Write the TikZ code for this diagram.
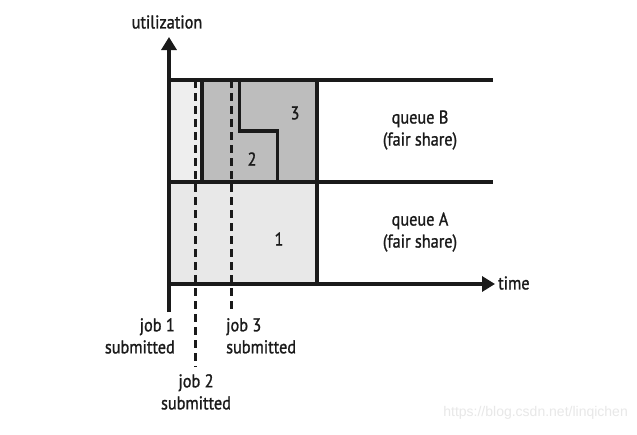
\documentclass[tikz,border=0pt]{standalone}
\usepackage{fontspec}
\setmainfont{PT Sans}[FakeStretch=0.88,FakeBold=1.2]
\newfontfamily\wmfont{Liberation Sans}
\usetikzlibrary{arrows.meta}
\definecolor{lightfill}{HTML}{E8E8E8}
\definecolor{lighterfill}{HTML}{EEEEEE}
\definecolor{darkfill}{HTML}{BDBDBD}
\definecolor{ink}{HTML}{1A1A1A}
\tikzset{
  thick line/.style={line width=3.2pt, ink},
  dash line/.style={line width=3pt, ink, dash pattern=on 8pt off 5pt},
  lbl/.style={font=\fontsize{18.5}{22}\selectfont, text=ink, inner sep=0pt},
  arrowtip/.style={-{Triangle[length=13pt,width=15pt]}},
}
\begin{document}
\begin{tikzpicture}[x=1pt,y=-1pt]
\useasboundingbox (0,0) rectangle (637,434);
\fill[white] (0,0) rectangle (637,434);
% coordinates
\coordinate (O) at (169,284);
\coordinate (Ybot) at (169,312);
\coordinate (Ytop) at (169,37);
\coordinate (Xend) at (495,284);
\coordinate (TL) at (169,80);
\coordinate (TR) at (493,80);
\coordinate (ML) at (169,182);
\coordinate (MR) at (493,182);
% fills
\fill[lightfill] (169,182) rectangle (317,284);
\fill[lighterfill] (169,80) rectangle (202,182);
\fill[darkfill] (202,80) rectangle (317,182);
% step line
\coordinate (s1) at (239.5,80);
\coordinate (s2) at (239.5,131);
\coordinate (s3) at (277.5,131);
\coordinate (s4) at (277.5,182);
\draw[thick line] (s1) -- (s2) -- (s3) -- (s4);
% vertical solid lines
\coordinate (v2t) at (202,80);
\coordinate (v2b) at (202,182);
\draw[thick line] (v2t) -- (v2b);
\coordinate (v3t) at (317,80);
\coordinate (v3b) at (317,284);
\draw[thick line] (v3t) -- (v3b);
% dashed submission lines
\coordinate (d2t) at (195,80);
\coordinate (d2b) at (195,367);
\coordinate (d3t) at (231,80);
\coordinate (d3b) at (231,311);
\draw[dash line] (d2t) -- (d2b);
\draw[dash line] (d3t) -- (d3b);
% horizontal lines
\draw[thick line] (TL) -- (TR);
\draw[thick line] (ML) -- (MR);
% axes
\draw[thick line, arrowtip] (O) -- (Xend);
\draw[thick line, arrowtip] (Ybot) -- (Ytop);
% labels
\node[lbl] (util) at (167,22) {utilization};
\node[lbl, anchor=west] (time) at (498,283) {time};
\node[lbl] (n3) at (295,113) {3};
\node[lbl] (n2) at (252,159) {2};
\node[lbl] (n1) at (279,239) {1};
\node[lbl, align=center] (qB) at (420,130) {queue B\\(fair share)};
\node[lbl, align=center] (qA) at (420,232) {queue A\\(fair share)};
\node[lbl, align=right, anchor=north east] (j1) at (175,318) {job 1\\submitted};
\node[lbl, align=left, anchor=north west] (j3) at (226,318) {job 3\\submitted};
\node[lbl, align=center, anchor=north] (j2) at (196,374) {job 2\\submitted};
\node[font=\wmfont\fontsize{14}{16}\selectfont, text=black!9, anchor=east, inner sep=0pt] (wm) at (628,413) {https://blog.csdn.net/linqichen};
\end{tikzpicture}
\end{document}
